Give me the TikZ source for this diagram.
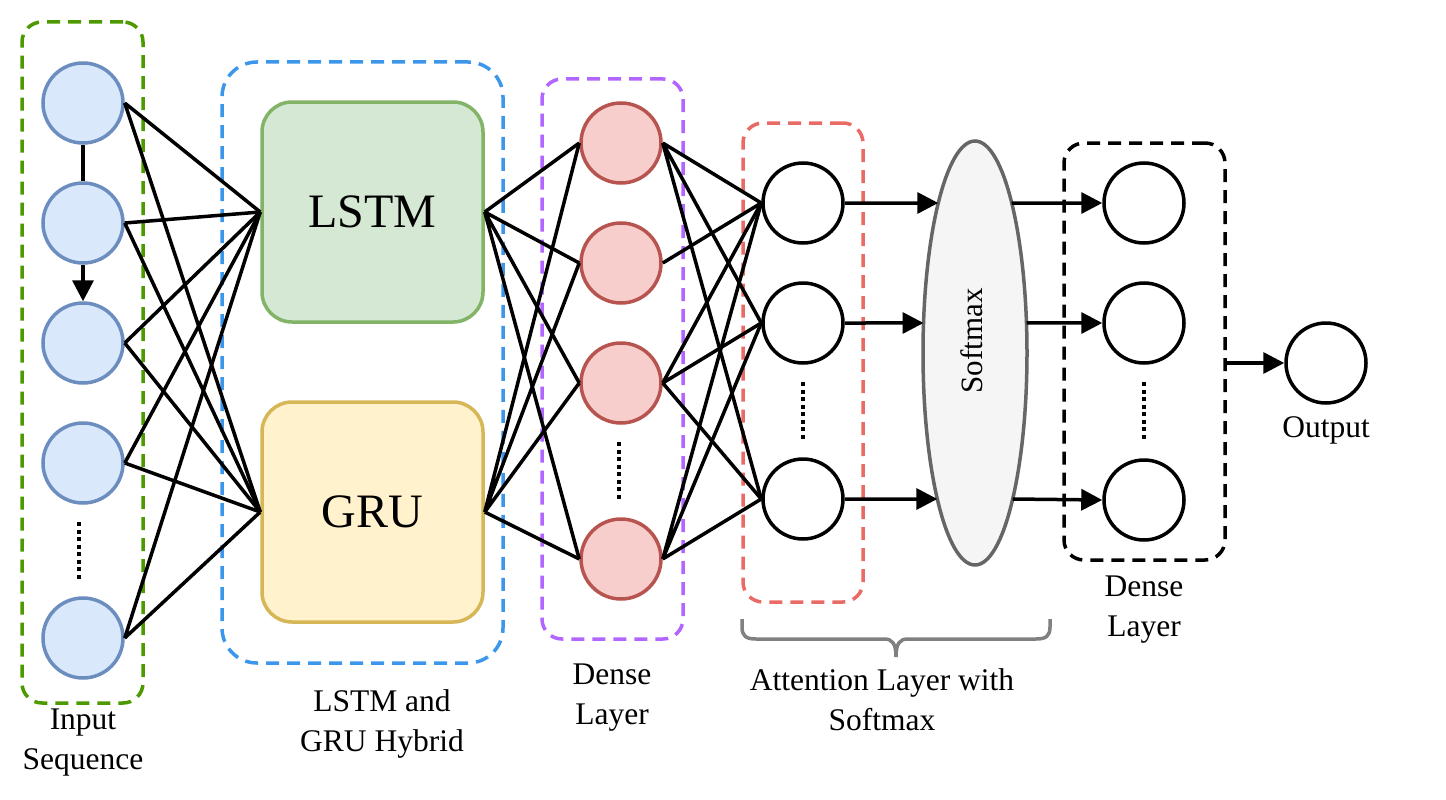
\documentclass[tikz,border=0pt]{standalone}
\usepackage{fontspec}
\setmainfont{Liberation Serif}
\definecolor{inedge}{RGB}{108, 142, 191}
\definecolor{infill}{RGB}{218, 232, 252}
\definecolor{dnsedge}{RGB}{184, 84, 80}
\definecolor{dnsfill}{RGB}{248, 206, 204}
\definecolor{lstmedge}{RGB}{130, 179, 102}
\definecolor{lstmfill}{RGB}{213, 232, 212}
\definecolor{gruedge}{RGB}{214, 182, 86}
\definecolor{grufill}{RGB}{255, 242, 204}
\definecolor{softedge}{RGB}{102, 102, 102}
\definecolor{softfill}{RGB}{245, 245, 245}
\definecolor{grpgreen}{RGB}{77, 153, 0}
\definecolor{grpblue}{RGB}{60, 150, 235}
\definecolor{grppurple}{RGB}{178, 102, 255}
\definecolor{grpred}{RGB}{234, 107, 102}
\definecolor{bracegray}{RGB}{128, 128, 128}
\usetikzlibrary{shapes.geometric, arrows.meta, positioning, intersections}

\begin{document}
\begin{tikzpicture}[x=1pt, y=-1pt,
  inode/.style={circle, draw=inedge, fill=infill, line width=3.5pt, minimum size=80pt, inner sep=0pt},
  rnode/.style={circle, draw=dnsedge, fill=dnsfill, line width=3.5pt, minimum size=80pt, inner sep=0pt},
  onode/.style={circle, draw=black, fill=white, line width=3.5pt, minimum size=80pt, inner sep=0pt},
  cellbox/.style={rounded corners=30pt, line width=3.5pt, minimum width=221pt, minimum height=220pt, inner sep=0pt, font=\fontsize{48}{56}\selectfont},
  grpbox/.style={line width=3.5pt, dash pattern=on 13pt off 8pt, rounded corners=20pt, inner sep=0pt},
  conn/.style={line width=3.5pt},
  arr/.style={line width=3.5pt, -{Triangle[length=21pt, width=21pt]}},
  lbl/.style={font=\fontsize{31.5}{40}\selectfont, align=center},
  vdots/.style={line width=4.5pt, dash pattern=on 4pt off 3.5pt}
]
  \useasboundingbox (0,0) rectangle (1446,800);

  % group boxes
  \node[grpbox, draw=grpgreen, minimum width=121pt, minimum height=681pt] (inbox) at (82.5,362.5) {};
  \node[grpbox, draw=grpblue, rounded corners=35pt, minimum width=281pt, minimum height=601pt] (hybbox) at (362.5,362.5) {};
  \node[grpbox, draw=grppurple, minimum width=141pt, minimum height=560pt] (dnsbox) at (612.5,359) {};
  \node[grpbox, draw=grpred, minimum width=120pt, minimum height=479pt] (attbox) at (803,362.5) {};
  \node[grpbox, draw=black, minimum width=161pt, minimum height=417pt] (outbox) at (1144.5,351.5) {};

  % input sequence
  \node[inode] (i1) at (83,103) {};
  \node[inode] (i2) at (83,223) {};
  \node[inode] (i3) at (83,343) {};
  \node[inode] (i4) at (83,463) {};
  \node[inode] (i5) at (83,638) {};
  \draw[vdots] (79,522) -- (79,580);
  \draw[conn] (i1.south) -- (i2.north);
  \draw[arr] (i2.south) -- (i3.north);

  % LSTM and GRU
  \node[cellbox, draw=lstmedge, fill=lstmfill] (lstm) at (372.5,212) {LSTM};
  \node[cellbox, draw=gruedge, fill=grufill] (gru) at (372.5,512) {GRU};

  % dense layer
  \node[rnode] (r1) at (621,143) {};
  \node[rnode] (r2) at (621,263) {};
  \node[rnode] (r3) at (621,383) {};
  \node[rnode] (r4) at (621,559) {};
  \draw[vdots] (619,442) -- (619,500);

  % attention layer
  \node[onode] (a1) at (803,203) {};
  \node[onode] (a2) at (803,323) {};
  \node[onode] (a3) at (803,499) {};
  \draw[vdots] (803,382) -- (803,440);

  % softmax
  \node[ellipse, draw=softedge, fill=softfill, line width=3.5pt, minimum width=104pt, minimum height=424pt, inner sep=0pt] (soft) at (975,353) {};
  \node[rotate=90, font=\fontsize{31}{36}\selectfont] (softtxt) at (972,341) {Softmax};
  \path[name path=softpath] (975,353) ellipse [x radius=52, y radius=212];

  % dense layer and output
  \node[onode] (d1) at (1144,203) {};
  \node[onode] (d2) at (1144,323) {};
  \node[onode] (d3) at (1144,500) {};
  \draw[vdots] (1144,382) -- (1144,440);
  \node[onode] (out) at (1326,363) {};

  % input -> LSTM / GRU
  \draw[conn] (i1.east) -- (lstm.west) (i1.east) -- (gru.west);
  \draw[conn] (i2.east) -- (lstm.west) (i2.east) -- (gru.west);
  \draw[conn] (i3.east) -- (lstm.west) (i3.east) -- (gru.west);
  \draw[conn] (i4.east) -- (lstm.west) (i4.east) -- (gru.west);
  \draw[conn] (i5.east) -- (lstm.west) (i5.east) -- (gru.west);

  % LSTM / GRU -> dense
  \draw[conn] (lstm.east) -- (r1.west) (lstm.east) -- (r2.west) (lstm.east) -- (r3.west) (lstm.east) -- (r4.west);
  \draw[conn] (gru.east) -- (r1.west) (gru.east) -- (r2.west) (gru.east) -- (r3.west) (gru.east) -- (r4.west);

  % dense -> attention
  \draw[conn] (r1.east) -- (a1.west) (r1.east) -- (a2.west) (r1.east) -- (a3.west);
  \draw[conn] (r2.east) -- (a1.west);
  \draw[conn] (r3.east) -- (a1.west) (r3.east) -- (a2.west) (r3.east) -- (a3.west);
  \draw[conn] (r4.east) -- (a1.west) (r4.east) -- (a2.west) (r4.east) -- (a3.west);

  % attention -> softmax -> dense
  \path[name path=h1] (a1.east) -- ++(300,0);
  \path[name path=h2] (a2.east) -- ++(300,0);
  \path[name path=h3] (a3.east) -- ++(300,0);
  \path[name intersections={of=h1 and softpath, sort by=h1, by={s1in,s1out}}];
  \path[name intersections={of=h2 and softpath, sort by=h2, by={s2in,s2out}}];
  \path[name intersections={of=h3 and softpath, sort by=h3, by={s3in,s3out}}];
  \draw[arr] (a1.east) -- (s1in);
  \draw[arr] (a2.east) -- (s2in);
  \draw[arr] (a3.east) -- (s3in);
  \draw[arr] (s1out) -- (d1.west);
  \draw[arr] (s2out) -- (d2.west);
  \draw[arr] (s3out) -- (d3.west);
  \draw[arr] (outbox.east |- out.west) -- (out.west);

  % brace
  \draw[bracegray, line width=3.5pt] (742,619) -- (742,627) .. controls (742,636) and (746,639) .. (756,639) -- (884,639)
    .. controls (892,639) and (896,643) .. (896,657)
    .. controls (896,643) and (900,639) .. (908,639) -- (1036,639)
    .. controls (1046,639) and (1050,636) .. (1050,627) -- (1050,619);

  % labels
  \node[lbl] (inlbl) at (83,743) {Input\\Sequence};
  \node[lbl] (hyblbl) at (382,724) {LSTM and\\GRU Hybrid};
  \node[lbl] (dnslbl) at (612,698) {Dense\\Layer};
  \node[lbl] (attlbl) at (882,700) {Attention Layer with\\Softmax};
  \node[lbl] (outdlbl) at (1144,610) {Dense\\Layer};
  \node[lbl] (outlbl) at (1326,430) {Output};
\end{tikzpicture}
\end{document}
